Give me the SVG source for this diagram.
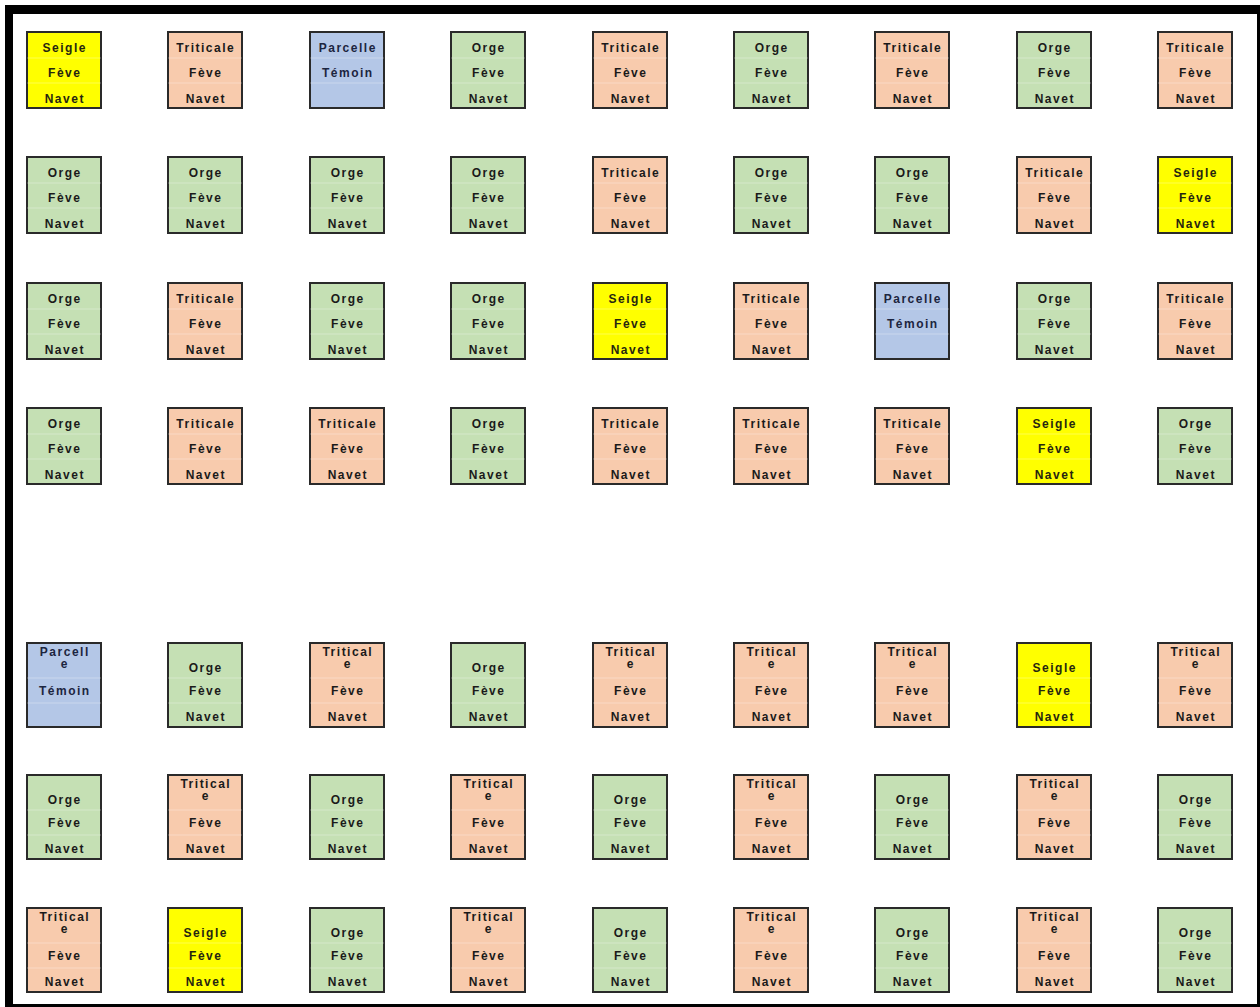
<svg xmlns="http://www.w3.org/2000/svg" width="1260" height="1007" viewBox="0 0 1260 1007">
<style>
.b{stroke:#2a2a2a;stroke-width:2}
.d{stroke:#ffffff;stroke-opacity:0.3;stroke-width:1;fill:none}
.Y .b{fill:#FFFF00}
.S .b{fill:#F8CBAD}
.G .b{fill:#C5E0B4}
.B .b{fill:#B4C7E7}
text{font-family:"Liberation Sans",Arial,sans-serif;font-weight:bold;font-size:12px;letter-spacing:1.5px;text-anchor:middle;fill:#1a1a1a}
.Y text{fill:#262610}
.B text{fill:#1c2540}
</style>
<rect x="0" y="0" width="1260" height="1007" fill="#ffffff"/>
<g id="frame">
<rect x="5" y="5" width="1255" height="9" fill="#000"/>
<rect x="5" y="5" width="8" height="1002" fill="#000"/>
<rect x="1257" y="5" width="3" height="1002" fill="#000"/>
<rect x="5" y="1004" width="1255" height="3" fill="#000"/>
</g>
<g id="connectors"/>
<!-- Row 1 -->
<g id="r1c1" class="Y" transform="translate(27,32)"><rect class="b" width="74" height="76"/><path class="d" d="M0,26H74M0,51H74"/><text x="37.8" y="20">Seigle</text><text x="37.8" y="45">Fève</text><text x="37.8" y="71">Navet</text></g>
<g id="r1c2" class="S" transform="translate(168,32)"><rect class="b" width="74" height="76"/><path class="d" d="M0,26H74M0,51H74"/><text x="37.8" y="20">Triticale</text><text x="37.8" y="45">Fève</text><text x="37.8" y="71">Navet</text></g>
<g id="r1c3" class="B" transform="translate(310,32)"><rect class="b" width="74" height="76"/><path class="d" d="M0,26H74M0,51H74"/><text x="37.8" y="20">Parcelle</text><text x="37.8" y="45">Témoin</text></g>
<g id="r1c4" class="G" transform="translate(451,32)"><rect class="b" width="74" height="76"/><path class="d" d="M0,26H74M0,51H74"/><text x="37.8" y="20">Orge</text><text x="37.8" y="45">Fève</text><text x="37.8" y="71">Navet</text></g>
<g id="r1c5" class="S" transform="translate(593,32)"><rect class="b" width="74" height="76"/><path class="d" d="M0,26H74M0,51H74"/><text x="37.8" y="20">Triticale</text><text x="37.8" y="45">Fève</text><text x="37.8" y="71">Navet</text></g>
<g id="r1c6" class="G" transform="translate(734,32)"><rect class="b" width="74" height="76"/><path class="d" d="M0,26H74M0,51H74"/><text x="37.8" y="20">Orge</text><text x="37.8" y="45">Fève</text><text x="37.8" y="71">Navet</text></g>
<g id="r1c7" class="S" transform="translate(875,32)"><rect class="b" width="74" height="76"/><path class="d" d="M0,26H74M0,51H74"/><text x="37.8" y="20">Triticale</text><text x="37.8" y="45">Fève</text><text x="37.8" y="71">Navet</text></g>
<g id="r1c8" class="G" transform="translate(1017,32)"><rect class="b" width="74" height="76"/><path class="d" d="M0,26H74M0,51H74"/><text x="37.8" y="20">Orge</text><text x="37.8" y="45">Fève</text><text x="37.8" y="71">Navet</text></g>
<g id="r1c9" class="S" transform="translate(1158,32)"><rect class="b" width="74" height="76"/><path class="d" d="M0,26H74M0,51H74"/><text x="37.8" y="20">Triticale</text><text x="37.8" y="45">Fève</text><text x="37.8" y="71">Navet</text></g>
<!-- Row 2 -->
<g id="r2c1" class="G" transform="translate(27,157)"><rect class="b" width="74" height="76"/><path class="d" d="M0,26H74M0,51H74"/><text x="37.8" y="20">Orge</text><text x="37.8" y="45">Fève</text><text x="37.8" y="71">Navet</text></g>
<g id="r2c2" class="G" transform="translate(168,157)"><rect class="b" width="74" height="76"/><path class="d" d="M0,26H74M0,51H74"/><text x="37.8" y="20">Orge</text><text x="37.8" y="45">Fève</text><text x="37.8" y="71">Navet</text></g>
<g id="r2c3" class="G" transform="translate(310,157)"><rect class="b" width="74" height="76"/><path class="d" d="M0,26H74M0,51H74"/><text x="37.8" y="20">Orge</text><text x="37.8" y="45">Fève</text><text x="37.8" y="71">Navet</text></g>
<g id="r2c4" class="G" transform="translate(451,157)"><rect class="b" width="74" height="76"/><path class="d" d="M0,26H74M0,51H74"/><text x="37.8" y="20">Orge</text><text x="37.8" y="45">Fève</text><text x="37.8" y="71">Navet</text></g>
<g id="r2c5" class="S" transform="translate(593,157)"><rect class="b" width="74" height="76"/><path class="d" d="M0,26H74M0,51H74"/><text x="37.8" y="20">Triticale</text><text x="37.8" y="45">Fève</text><text x="37.8" y="71">Navet</text></g>
<g id="r2c6" class="G" transform="translate(734,157)"><rect class="b" width="74" height="76"/><path class="d" d="M0,26H74M0,51H74"/><text x="37.8" y="20">Orge</text><text x="37.8" y="45">Fève</text><text x="37.8" y="71">Navet</text></g>
<g id="r2c7" class="G" transform="translate(875,157)"><rect class="b" width="74" height="76"/><path class="d" d="M0,26H74M0,51H74"/><text x="37.8" y="20">Orge</text><text x="37.8" y="45">Fève</text><text x="37.8" y="71">Navet</text></g>
<g id="r2c8" class="S" transform="translate(1017,157)"><rect class="b" width="74" height="76"/><path class="d" d="M0,26H74M0,51H74"/><text x="37.8" y="20">Triticale</text><text x="37.8" y="45">Fève</text><text x="37.8" y="71">Navet</text></g>
<g id="r2c9" class="Y" transform="translate(1158,157)"><rect class="b" width="74" height="76"/><path class="d" d="M0,26H74M0,51H74"/><text x="37.8" y="20">Seigle</text><text x="37.8" y="45">Fève</text><text x="37.8" y="71">Navet</text></g>
<!-- Row 3 -->
<g id="r3c1" class="G" transform="translate(27,283)"><rect class="b" width="74" height="76"/><path class="d" d="M0,26H74M0,51H74"/><text x="37.8" y="20">Orge</text><text x="37.8" y="45">Fève</text><text x="37.8" y="71">Navet</text></g>
<g id="r3c2" class="S" transform="translate(168,283)"><rect class="b" width="74" height="76"/><path class="d" d="M0,26H74M0,51H74"/><text x="37.8" y="20">Triticale</text><text x="37.8" y="45">Fève</text><text x="37.8" y="71">Navet</text></g>
<g id="r3c3" class="G" transform="translate(310,283)"><rect class="b" width="74" height="76"/><path class="d" d="M0,26H74M0,51H74"/><text x="37.8" y="20">Orge</text><text x="37.8" y="45">Fève</text><text x="37.8" y="71">Navet</text></g>
<g id="r3c4" class="G" transform="translate(451,283)"><rect class="b" width="74" height="76"/><path class="d" d="M0,26H74M0,51H74"/><text x="37.8" y="20">Orge</text><text x="37.8" y="45">Fève</text><text x="37.8" y="71">Navet</text></g>
<g id="r3c5" class="Y" transform="translate(593,283)"><rect class="b" width="74" height="76"/><path class="d" d="M0,26H74M0,51H74"/><text x="37.8" y="20">Seigle</text><text x="37.8" y="45">Fève</text><text x="37.8" y="71">Navet</text></g>
<g id="r3c6" class="S" transform="translate(734,283)"><rect class="b" width="74" height="76"/><path class="d" d="M0,26H74M0,51H74"/><text x="37.8" y="20">Triticale</text><text x="37.8" y="45">Fève</text><text x="37.8" y="71">Navet</text></g>
<g id="r3c7" class="B" transform="translate(875,283)"><rect class="b" width="74" height="76"/><path class="d" d="M0,26H74M0,51H74"/><text x="37.8" y="20">Parcelle</text><text x="37.8" y="45">Témoin</text></g>
<g id="r3c8" class="G" transform="translate(1017,283)"><rect class="b" width="74" height="76"/><path class="d" d="M0,26H74M0,51H74"/><text x="37.8" y="20">Orge</text><text x="37.8" y="45">Fève</text><text x="37.8" y="71">Navet</text></g>
<g id="r3c9" class="S" transform="translate(1158,283)"><rect class="b" width="74" height="76"/><path class="d" d="M0,26H74M0,51H74"/><text x="37.8" y="20">Triticale</text><text x="37.8" y="45">Fève</text><text x="37.8" y="71">Navet</text></g>
<!-- Row 4 -->
<g id="r4c1" class="G" transform="translate(27,408)"><rect class="b" width="74" height="76"/><path class="d" d="M0,26H74M0,51H74"/><text x="37.8" y="20">Orge</text><text x="37.8" y="45">Fève</text><text x="37.8" y="71">Navet</text></g>
<g id="r4c2" class="S" transform="translate(168,408)"><rect class="b" width="74" height="76"/><path class="d" d="M0,26H74M0,51H74"/><text x="37.8" y="20">Triticale</text><text x="37.8" y="45">Fève</text><text x="37.8" y="71">Navet</text></g>
<g id="r4c3" class="S" transform="translate(310,408)"><rect class="b" width="74" height="76"/><path class="d" d="M0,26H74M0,51H74"/><text x="37.8" y="20">Triticale</text><text x="37.8" y="45">Fève</text><text x="37.8" y="71">Navet</text></g>
<g id="r4c4" class="G" transform="translate(451,408)"><rect class="b" width="74" height="76"/><path class="d" d="M0,26H74M0,51H74"/><text x="37.8" y="20">Orge</text><text x="37.8" y="45">Fève</text><text x="37.8" y="71">Navet</text></g>
<g id="r4c5" class="S" transform="translate(593,408)"><rect class="b" width="74" height="76"/><path class="d" d="M0,26H74M0,51H74"/><text x="37.8" y="20">Triticale</text><text x="37.8" y="45">Fève</text><text x="37.8" y="71">Navet</text></g>
<g id="r4c6" class="S" transform="translate(734,408)"><rect class="b" width="74" height="76"/><path class="d" d="M0,26H74M0,51H74"/><text x="37.8" y="20">Triticale</text><text x="37.8" y="45">Fève</text><text x="37.8" y="71">Navet</text></g>
<g id="r4c7" class="S" transform="translate(875,408)"><rect class="b" width="74" height="76"/><path class="d" d="M0,26H74M0,51H74"/><text x="37.8" y="20">Triticale</text><text x="37.8" y="45">Fève</text><text x="37.8" y="71">Navet</text></g>
<g id="r4c8" class="Y" transform="translate(1017,408)"><rect class="b" width="74" height="76"/><path class="d" d="M0,26H74M0,51H74"/><text x="37.8" y="20">Seigle</text><text x="37.8" y="45">Fève</text><text x="37.8" y="71">Navet</text></g>
<g id="r4c9" class="G" transform="translate(1158,408)"><rect class="b" width="74" height="76"/><path class="d" d="M0,26H74M0,51H74"/><text x="37.8" y="20">Orge</text><text x="37.8" y="45">Fève</text><text x="37.8" y="71">Navet</text></g>
<!-- Row 5 -->
<g id="r5c1" class="B" transform="translate(27,643)"><rect class="b" width="74" height="84"/><path class="d" d="M0,35H74M0,60H74"/><text x="37.8" y="13">Parcell</text><text x="37.8" y="25">e</text><text x="37.8" y="52">Témoin</text></g>
<g id="r5c2" class="G" transform="translate(168,643)"><rect class="b" width="74" height="84"/><path class="d" d="M0,35H74M0,60H74"/><text x="37.8" y="29">Orge</text><text x="37.8" y="52">Fève</text><text x="37.8" y="78">Navet</text></g>
<g id="r5c3" class="S" transform="translate(310,643)"><rect class="b" width="74" height="84"/><path class="d" d="M0,35H74M0,60H74"/><text x="37.8" y="13">Tritical</text><text x="37.8" y="25">e</text><text x="37.8" y="52">Fève</text><text x="37.8" y="78">Navet</text></g>
<g id="r5c4" class="G" transform="translate(451,643)"><rect class="b" width="74" height="84"/><path class="d" d="M0,35H74M0,60H74"/><text x="37.8" y="29">Orge</text><text x="37.8" y="52">Fève</text><text x="37.8" y="78">Navet</text></g>
<g id="r5c5" class="S" transform="translate(593,643)"><rect class="b" width="74" height="84"/><path class="d" d="M0,35H74M0,60H74"/><text x="37.8" y="13">Tritical</text><text x="37.8" y="25">e</text><text x="37.8" y="52">Fève</text><text x="37.8" y="78">Navet</text></g>
<g id="r5c6" class="S" transform="translate(734,643)"><rect class="b" width="74" height="84"/><path class="d" d="M0,35H74M0,60H74"/><text x="37.8" y="13">Tritical</text><text x="37.8" y="25">e</text><text x="37.8" y="52">Fève</text><text x="37.8" y="78">Navet</text></g>
<g id="r5c7" class="S" transform="translate(875,643)"><rect class="b" width="74" height="84"/><path class="d" d="M0,35H74M0,60H74"/><text x="37.8" y="13">Tritical</text><text x="37.8" y="25">e</text><text x="37.8" y="52">Fève</text><text x="37.8" y="78">Navet</text></g>
<g id="r5c8" class="Y" transform="translate(1017,643)"><rect class="b" width="74" height="84"/><path class="d" d="M0,35H74M0,60H74"/><text x="37.8" y="29">Seigle</text><text x="37.8" y="52">Fève</text><text x="37.8" y="78">Navet</text></g>
<g id="r5c9" class="S" transform="translate(1158,643)"><rect class="b" width="74" height="84"/><path class="d" d="M0,35H74M0,60H74"/><text x="37.8" y="13">Tritical</text><text x="37.8" y="25">e</text><text x="37.8" y="52">Fève</text><text x="37.8" y="78">Navet</text></g>
<!-- Row 6 -->
<g id="r6c1" class="G" transform="translate(27,775)"><rect class="b" width="74" height="84"/><path class="d" d="M0,35H74M0,60H74"/><text x="37.8" y="29">Orge</text><text x="37.8" y="52">Fève</text><text x="37.8" y="78">Navet</text></g>
<g id="r6c2" class="S" transform="translate(168,775)"><rect class="b" width="74" height="84"/><path class="d" d="M0,35H74M0,60H74"/><text x="37.8" y="13">Tritical</text><text x="37.8" y="25">e</text><text x="37.8" y="52">Fève</text><text x="37.8" y="78">Navet</text></g>
<g id="r6c3" class="G" transform="translate(310,775)"><rect class="b" width="74" height="84"/><path class="d" d="M0,35H74M0,60H74"/><text x="37.8" y="29">Orge</text><text x="37.8" y="52">Fève</text><text x="37.8" y="78">Navet</text></g>
<g id="r6c4" class="S" transform="translate(451,775)"><rect class="b" width="74" height="84"/><path class="d" d="M0,35H74M0,60H74"/><text x="37.8" y="13">Tritical</text><text x="37.8" y="25">e</text><text x="37.8" y="52">Fève</text><text x="37.8" y="78">Navet</text></g>
<g id="r6c5" class="G" transform="translate(593,775)"><rect class="b" width="74" height="84"/><path class="d" d="M0,35H74M0,60H74"/><text x="37.8" y="29">Orge</text><text x="37.8" y="52">Fève</text><text x="37.8" y="78">Navet</text></g>
<g id="r6c6" class="S" transform="translate(734,775)"><rect class="b" width="74" height="84"/><path class="d" d="M0,35H74M0,60H74"/><text x="37.8" y="13">Tritical</text><text x="37.8" y="25">e</text><text x="37.8" y="52">Fève</text><text x="37.8" y="78">Navet</text></g>
<g id="r6c7" class="G" transform="translate(875,775)"><rect class="b" width="74" height="84"/><path class="d" d="M0,35H74M0,60H74"/><text x="37.8" y="29">Orge</text><text x="37.8" y="52">Fève</text><text x="37.8" y="78">Navet</text></g>
<g id="r6c8" class="S" transform="translate(1017,775)"><rect class="b" width="74" height="84"/><path class="d" d="M0,35H74M0,60H74"/><text x="37.8" y="13">Tritical</text><text x="37.8" y="25">e</text><text x="37.8" y="52">Fève</text><text x="37.8" y="78">Navet</text></g>
<g id="r6c9" class="G" transform="translate(1158,775)"><rect class="b" width="74" height="84"/><path class="d" d="M0,35H74M0,60H74"/><text x="37.8" y="29">Orge</text><text x="37.8" y="52">Fève</text><text x="37.8" y="78">Navet</text></g>
<!-- Row 7 -->
<g id="r7c1" class="S" transform="translate(27,908)"><rect class="b" width="74" height="84"/><path class="d" d="M0,35H74M0,60H74"/><text x="37.8" y="13">Tritical</text><text x="37.8" y="25">e</text><text x="37.8" y="52">Fève</text><text x="37.8" y="78">Navet</text></g>
<g id="r7c2" class="Y" transform="translate(168,908)"><rect class="b" width="74" height="84"/><path class="d" d="M0,35H74M0,60H74"/><text x="37.8" y="29">Seigle</text><text x="37.8" y="52">Fève</text><text x="37.8" y="78">Navet</text></g>
<g id="r7c3" class="G" transform="translate(310,908)"><rect class="b" width="74" height="84"/><path class="d" d="M0,35H74M0,60H74"/><text x="37.8" y="29">Orge</text><text x="37.8" y="52">Fève</text><text x="37.8" y="78">Navet</text></g>
<g id="r7c4" class="S" transform="translate(451,908)"><rect class="b" width="74" height="84"/><path class="d" d="M0,35H74M0,60H74"/><text x="37.8" y="13">Tritical</text><text x="37.8" y="25">e</text><text x="37.8" y="52">Fève</text><text x="37.8" y="78">Navet</text></g>
<g id="r7c5" class="G" transform="translate(593,908)"><rect class="b" width="74" height="84"/><path class="d" d="M0,35H74M0,60H74"/><text x="37.8" y="29">Orge</text><text x="37.8" y="52">Fève</text><text x="37.8" y="78">Navet</text></g>
<g id="r7c6" class="S" transform="translate(734,908)"><rect class="b" width="74" height="84"/><path class="d" d="M0,35H74M0,60H74"/><text x="37.8" y="13">Tritical</text><text x="37.8" y="25">e</text><text x="37.8" y="52">Fève</text><text x="37.8" y="78">Navet</text></g>
<g id="r7c7" class="G" transform="translate(875,908)"><rect class="b" width="74" height="84"/><path class="d" d="M0,35H74M0,60H74"/><text x="37.8" y="29">Orge</text><text x="37.8" y="52">Fève</text><text x="37.8" y="78">Navet</text></g>
<g id="r7c8" class="S" transform="translate(1017,908)"><rect class="b" width="74" height="84"/><path class="d" d="M0,35H74M0,60H74"/><text x="37.8" y="13">Tritical</text><text x="37.8" y="25">e</text><text x="37.8" y="52">Fève</text><text x="37.8" y="78">Navet</text></g>
<g id="r7c9" class="G" transform="translate(1158,908)"><rect class="b" width="74" height="84"/><path class="d" d="M0,35H74M0,60H74"/><text x="37.8" y="29">Orge</text><text x="37.8" y="52">Fève</text><text x="37.8" y="78">Navet</text></g>
</svg>
